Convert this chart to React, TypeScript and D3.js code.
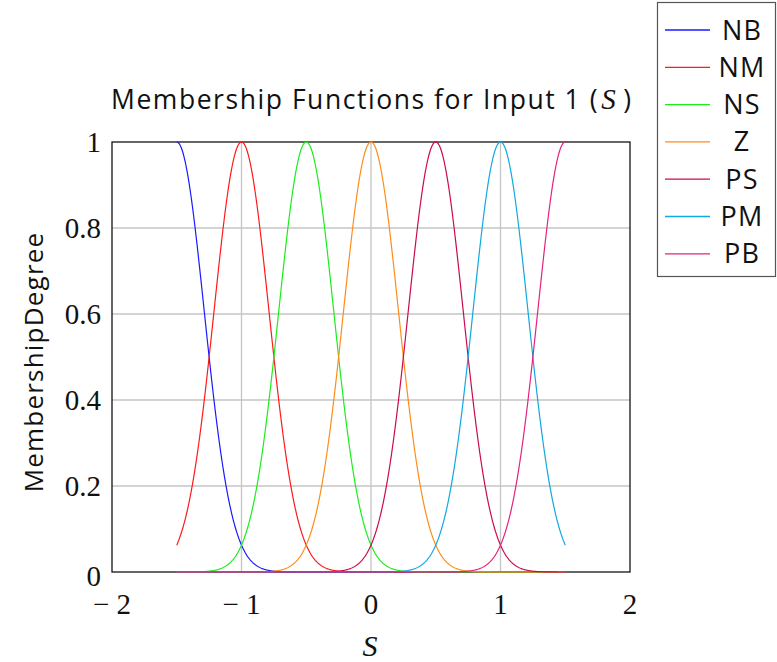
import React from "react";
import * as d3 from "d3";

const names = ["NB", "NM", "NS", "Z", "PS", "PM", "PB"];
const centers = [-1.5, -1, -0.5, 0, 0.5, 1, 1.5];
const sigmas = [0.2123, 0.2123, 0.2123, 0.2123, 0.2123, 0.2123, 0.2123];
const colors = ["#1a1aff", "#ff1a1a", "#1aee1a", "#ff8c1a", "#cc0a50", "#12a8e0", "#e6227e"];
const xTicks = [-2, -1, 0, 1, 2];
const xTickLabels = ["\u2212 2", "\u2212 1", "0", "1", "2"];
const yTicks = [0, 0.2, 0.4, 0.6, 0.8, 1];
const yTickLabels = ["0", "0.2", "0.4", "0.6", "0.8", "1"];
const xGrid = [-1, 0, 1];
const yGrid = [0.2, 0.4, 0.6, 0.8];
const xRange = [-1.5, 1.5];

export default function App() {
  const W = 777, H = 662;
  const L = 112, R = 630, T = 142, B = 572;
  const x = d3.scaleLinear().domain([-2, 2]).range([L, R]);
  const y = d3.scaleLinear().domain([0, 1]).range([B, T]);
  const samples = d3.range(0, 601).map((i) => xRange[0] + (i / 600) * (xRange[1] - xRange[0]));
  const line = d3.line<[number, number]>().x((d) => x(d[0])).y((d) => y(d[1]));
  const serif = "'Liberation Serif', 'DejaVu Serif', serif";
  const sans = "'Open Sans', 'Noto Sans', sans-serif";
  return (
    <svg width={W} height={H} style={{ position: "absolute", left: 0, top: 0, background: "#fff" }}>
      <rect x={0} y={0} width={W} height={H} fill="#fff" />
      {xGrid.map((v) => (
        <line key={"xg" + v} x1={x(v)} x2={x(v)} y1={T} y2={B} stroke="#c4c4c4" strokeWidth={1.3} />
      ))}
      {yGrid.map((v) => (
        <line key={"yg" + v} x1={L} x2={R} y1={y(v)} y2={y(v)} stroke="#c4c4c4" strokeWidth={1.3} />
      ))}
      <rect x={L} y={T} width={R - L} height={B - T} fill="none" stroke="#000" strokeWidth={1.2} />
      {names.map((n, i) => {
        const pts: [number, number][] = samples.map((s) => [
          s,
          Math.exp(-((s - centers[i]) ** 2) / (2 * sigmas[i] ** 2)),
        ]);
        return <path key={n} d={line(pts) || ""} fill="none" stroke={colors[i]} strokeWidth={1.2} />;
      })}
      {xTicks.map((v, i) => (
        <text key={"xt" + v} x={x(v)} y={614} textAnchor="middle" fontFamily={serif} fontSize={29} fill="#111">
          {xTickLabels[i]}
        </text>
      ))}
      {yTicks.map((v, i) => (
        <text key={"yt" + v} x={101} y={y(v) + (v === 0 ? 14 : 10)} textAnchor="end" fontFamily={serif} fontSize={29} fill="#111">
          {yTickLabels[i]}
        </text>
      ))}
      <text x={111} y={109} textAnchor="start" fontFamily={sans} fontSize={26.5} letterSpacing={1.55} fill="#111">
        Membership Functions for Input 1 (
        <tspan fontFamily={serif} fontStyle="italic" fontSize={29} dx={2}>S</tspan>
        <tspan dx={6}>)</tspan>
      </text>
      <text x={370} y={656} textAnchor="middle" fontFamily={serif} fontStyle="italic" fontSize={30} fill="#111">
        S
      </text>
      <text transform={`translate(43,${362}) rotate(-90)`} textAnchor="middle" fontFamily={sans} fontSize={26} letterSpacing={1.2} fill="#111">
        MembershipDegree
      </text>
      <rect x={657.5} y={2.5} width={118} height={274} fill="#fff" stroke="#555" strokeWidth={1.2} />
      {names.map((n, i) => {
        const yy = 30 + i * 37.3;
        return (
          <g key={"lg" + n}>
            <line x1={665} x2={710} y1={yy} y2={yy} stroke={colors[i]} strokeWidth={1.3} />
            <text x={742} y={yy + 9.5} textAnchor="middle" fontFamily={sans} fontSize={27} letterSpacing={1.2} fill="#111">
              {n}
            </text>
          </g>
        );
      })}
    </svg>
  );
}
